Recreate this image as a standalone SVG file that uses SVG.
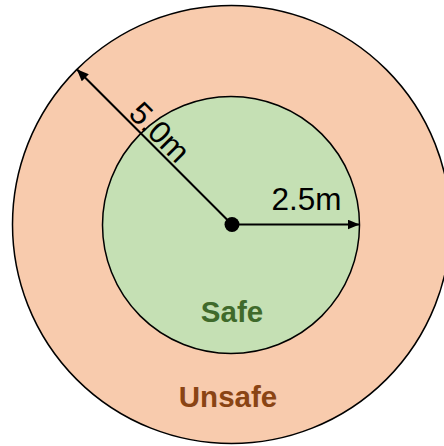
<svg xmlns="http://www.w3.org/2000/svg" width="444" height="446" viewBox="0 0 444 446">
  <style>
    .ring { stroke: #000; stroke-width: 1.5; }
    .dim { stroke: #000; stroke-width: 2; fill: none; }
    .lbl { font-family: "Liberation Sans", Arial, sans-serif; font-size: 31.5px; fill: #000; }
    .zone { font-family: "Liberation Sans", Arial, sans-serif; font-size: 29.5px; font-weight: bold; text-anchor: middle; }
  </style>
  <defs>
    <marker id="arrB" viewBox="0 0 12 10" refX="12" refY="5" markerWidth="12" markerHeight="10" orient="auto" markerUnits="userSpaceOnUse">
      <path d="M0,0 L12,5 L0,10 Z" fill="#000"/>
    </marker>
  </defs>
  <g id="unsafe">
    <circle class="ring" cx="231.5" cy="224.5" r="219" fill="#f8cbad"/>
    <text class="zone" x="228" y="407" fill="#8a4414">Unsafe</text>
  </g>
  <g id="safe">
    <circle class="ring" cx="231" cy="225" r="128.5" fill="#c5e0b4"/>
    <text class="zone" x="232" y="322" fill="#3f6a2b">Safe</text>
  </g>
  <g id="connectors">
    <line class="dim" x1="232" y1="224.5" x2="76.8" y2="69.3" marker-end="url(#arrB)"/>
    <line class="dim" x1="232" y1="224.5" x2="359.5" y2="224.5" marker-end="url(#arrB)"/>
  </g>
  <g id="center">
    <circle cx="232" cy="224.5" r="7.5" fill="#000"/>
  </g>
  <g id="labels">
    <text class="lbl" x="306.5" y="209.5" text-anchor="middle">2.5m</text>
    <text class="lbl" transform="translate(150,142) rotate(45)" x="0" y="-3" text-anchor="middle">5.0m</text>
  </g>
</svg>
